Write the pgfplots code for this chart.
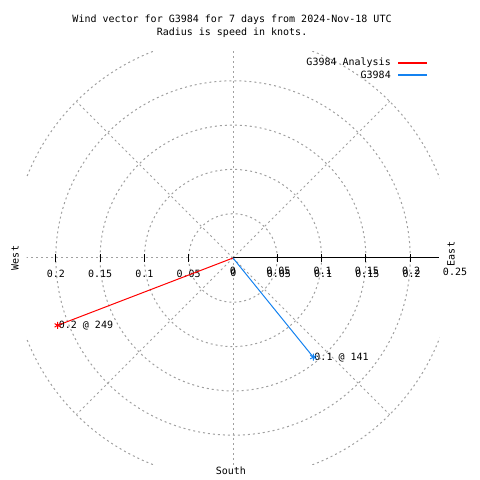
\documentclass[border=0pt]{standalone}
\usepackage{pgfplots}
\pgfplotsset{compat=1.18}
\usepackage{fontspec}
\setmainfont{DejaVu Sans Mono}
\definecolor{gridgray}{RGB}{160,160,160}
\definecolor{wblue}{RGB}{20,130,240}
\definecolor{wred}{RGB}{255,0,0}
\begin{document}
\fontsize{10bp}{12bp}\selectfont
\begin{tikzpicture}[font=\fontsize{10bp}{12bp}\selectfont]
\begin{axis}[
  x=886bp, y=886bp,
  xmin=-0.26298, xmax=0.27878, ymin=-0.25056, ymax=0.29120,
  hide axis, clip=false,
]
\path (rel axis cs:0,0) rectangle (rel axis cs:1,1);
\begin{scope}
\clip (axis cs:-0.2330,-0.2330) rectangle (axis cs:0.2330,0.2330);
\begin{scope}[gridgray, line width=1bp, dash pattern=on 2bp off 3bp]
\draw (axis cs:0,0) circle[radius=44.3bp];
\draw (axis cs:0,0) circle[radius=88.6bp];
\draw (axis cs:0,0) circle[radius=132.9bp];
\draw (axis cs:0,0) circle[radius=177.2bp];
\draw (axis cs:0,0) circle[radius=221.5bp];
\draw (axis cs:0,0) -- ++(45:221.5bp);
\draw (axis cs:0,0) -- ++(90:221.5bp);
\draw (axis cs:0,0) -- ++(135:221.5bp);
\draw (axis cs:0,0) -- ++(180:221.5bp);
\draw (axis cs:0,0) -- ++(225:221.5bp);
\draw (axis cs:0,0) -- ++(270:221.5bp);
\draw (axis cs:0,0) -- ++(315:221.5bp);
\end{scope}
\end{scope}
\draw[black, line width=1bp] (axis cs:0,0) -- (axis cs:0.2325,0);
\begin{scope}[black, line width=1bp]
\draw (axis cs:-0.2,0.0045) -- (axis cs:-0.2,-0.0045);
\draw (axis cs:-0.15,0.0045) -- (axis cs:-0.15,-0.0045);
\draw (axis cs:-0.1,0.0045) -- (axis cs:-0.1,-0.0045);
\draw (axis cs:-0.05,0.0045) -- (axis cs:-0.05,-0.0045);
\draw (axis cs:0.05,0.0045) -- (axis cs:0.05,-0.0045);
\draw (axis cs:0.1,0.0045) -- (axis cs:0.1,-0.0045);
\draw (axis cs:0.15,0.0045) -- (axis cs:0.15,-0.0045);
\draw (axis cs:0.2,0.0045) -- (axis cs:0.2,-0.0045);
\end{scope}
% tick labels, west
\node[inner sep=0pt, yshift=-16bp] at (axis cs:-0.2,0) {0.2};
\node[inner sep=0pt, yshift=-16bp] at (axis cs:-0.15,0) {0.15};
\node[inner sep=0pt, yshift=-16bp] at (axis cs:-0.1,0) {0.1};
\node[inner sep=0pt, yshift=-16bp] at (axis cs:-0.05,0) {0.05};
% tick labels, east (doubled)
\node[inner sep=0pt, yshift=-13bp] at (axis cs:0,0) {0};
\node[inner sep=0pt, yshift=-15bp, xshift=0.5bp] at (axis cs:0,0) {0};
\node[inner sep=0pt, yshift=-13bp, xshift=1bp] at (axis cs:0.05,0) {0.05};
\node[inner sep=0pt, yshift=-16bp, xshift=1.5bp] at (axis cs:0.05,0) {0.05};
\node[inner sep=0pt, yshift=-13bp, xshift=1bp] at (axis cs:0.1,0) {0.1};
\node[inner sep=0pt, yshift=-16bp, xshift=1.5bp] at (axis cs:0.1,0) {0.1};
\node[inner sep=0pt, yshift=-13bp, xshift=1bp] at (axis cs:0.15,0) {0.15};
\node[inner sep=0pt, yshift=-16bp, xshift=1.5bp] at (axis cs:0.15,0) {0.15};
\node[inner sep=0pt, yshift=-13bp, xshift=1bp] at (axis cs:0.2,0) {0.2};
\node[inner sep=0pt, yshift=-16bp, xshift=1.5bp] at (axis cs:0.2,0) {0.2};
\node[inner sep=0pt] at (axis cs:0.2506,-0.0158) {0.25};
% direction labels
\node[inner sep=0pt, rotate=90] at (axis cs:-0.2461,0) {West};
\node[inner sep=0pt, rotate=90] at (axis cs:0.2460,0.0045) {East};
\node[inner sep=0pt] at (axis cs:-0.0023,-0.2404) {South};
% title
\node[inner sep=0pt] at (axis cs:-0.0011,0.2686) {Wind vector for G3984 for 7 days from 2024-Nov-18 UTC};
\node[inner sep=0pt] at (axis cs:-0.0011,0.2540) {Radius is speed in knots.};
% legend (key)
\node[anchor=east, inner sep=0pt] at (axis cs:0.1783,0.2201) {G3984 Analysis};
\fill[wred] (axis cs:0.1862,0.21941) rectangle (axis cs:0.2190,0.22077);
\node[anchor=east, inner sep=0pt] at (axis cs:0.1783,0.2065) {G3984};
\fill[wblue] (axis cs:0.1862,0.20587) rectangle (axis cs:0.2190,0.20722);
% data
\addplot[wred, line width=1bp, mark=asterisk, mark indices={2}, mark size=3.5bp, mark options={solid}]
  coordinates {(0,0) (-0.1979,-0.0760)};
\addplot[wblue, line width=1bp, mark=asterisk, mark indices={2}, mark size=3.5bp, mark options={solid}]
  coordinates {(0,0) (0.0906,-0.1119)};
\node[anchor=west, inner sep=0pt, xshift=1bp] at (axis cs:-0.1979,-0.0760) {0.2 @ 249};
\node[anchor=west, inner sep=0pt, xshift=1bp] at (axis cs:0.0906,-0.1119) {0.1 @ 141};
\end{axis}
\end{tikzpicture}
\end{document}
